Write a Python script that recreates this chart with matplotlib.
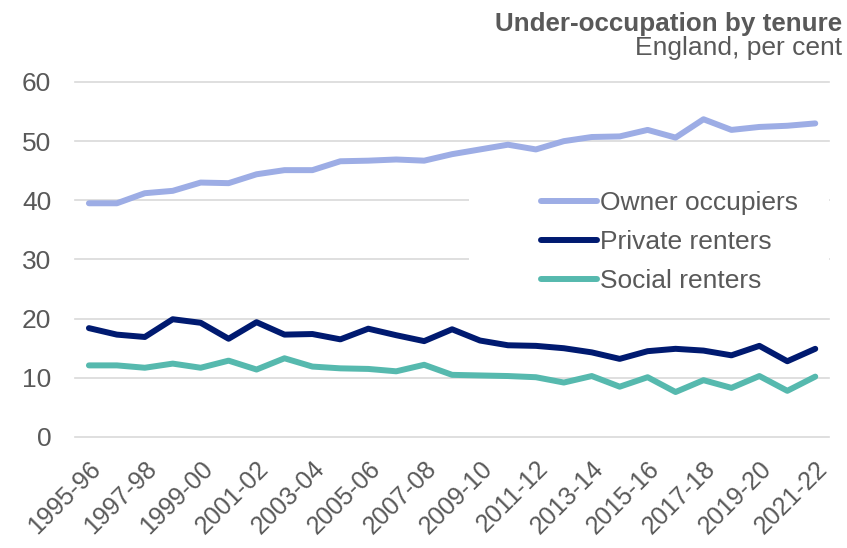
import matplotlib.pyplot as plt
from matplotlib.patches import Rectangle

plt.rcParams['font.family'] = ['Liberation Sans', 'DejaVu Sans']

# Survey years
years = ['1995-96', '1996-97', '1997-98', '1998-99', '1999-00', '2000-01', '2001-02',
         '2002-03', '2003-04', '2004-05', '2005-06', '2006-07', '2007-08', '2008-09',
         '2009-10', '2010-11', '2011-12', '2012-13', '2013-14', '2014-15', '2015-16',
         '2016-17', '2017-18', '2018-19', '2019-20', '2020-21', '2021-22']

# Under-occupation, per cent
owner = [39.5, 39.5, 41.2, 41.6, 43.0, 42.9, 44.4, 45.1, 45.1, 46.6, 46.7, 46.9, 46.7, 47.8,
         48.6, 49.4, 48.6, 50.0, 50.7, 50.8, 51.9, 50.6, 53.7, 51.9, 52.4, 52.6, 53.0]
private = [18.4, 17.3, 16.9, 19.9, 19.3, 16.6, 19.4, 17.3, 17.4, 16.5, 18.3, 17.2, 16.2, 18.2,
           16.3, 15.5, 15.4, 15.0, 14.3, 13.2, 14.5, 14.9, 14.6, 13.8, 15.4, 12.8, 14.9]
social = [12.1, 12.1, 11.7, 12.4, 11.7, 12.9, 11.4, 13.3, 11.9, 11.6, 11.5, 11.1, 12.2, 10.5,
          10.4, 10.3, 10.1, 9.2, 10.3, 8.5, 10.1, 7.6, 9.6, 8.3, 10.3, 7.8, 10.2]

grey = '#595959'

fig = plt.figure(figsize=(8.47, 5.48), dpi=100)
ax = fig.add_axes([0.0885, 0.2026, 0.8905, 0.6478])

x = range(len(years))
ax.plot(x, owner, color='#9DADE5', lw=4.3, solid_capstyle='round', label='Owner occupiers', zorder=3)
ax.plot(x, private, color='#001A70', lw=4.3, solid_capstyle='round', label='Private renters', zorder=3)
ax.plot(x, social, color='#56B9AE', lw=4.3, solid_capstyle='round', label='Social renters', zorder=3)

# white panel behind the legend
ax.add_patch(Rectangle((0.523, 0.37), 0.477, 0.40, transform=ax.transAxes,
                       facecolor='white', edgecolor='none', zorder=1))

ax.set_xlim(-0.5, len(years) - 0.5)
ax.set_ylim(0, 60)
ax.set_yticks(range(0, 61, 10))
ax.set_xticks(list(x)[::2])
ax.set_xticklabels(years[::2], rotation=45, ha='right', rotation_mode='anchor')

ax.grid(axis='y', color='#D9D9D9', lw=1.2)
for gl in ax.get_ygridlines():
    gl.set_clip_on(False)
ax.set_axisbelow(True)
for s in ax.spines.values():
    s.set_visible(False)
ax.tick_params(axis='y', length=0, pad=17, labelsize=19, labelcolor=grey)
ax.tick_params(axis='x', length=0, pad=14, labelsize=18, labelcolor=grey)

leg = ax.legend(loc='upper left', bbox_to_anchor=(0.618, 0.692), frameon=False,
                fontsize=19, handlelength=2.1, handletextpad=0.15, labelspacing=0.56,
                borderpad=0, borderaxespad=0)
for t in leg.get_texts():
    t.set_color(grey)

fig.text(0.994, 0.943, 'Under-occupation by tenure', ha='right', va='baseline',
         fontsize=18.7, fontweight='bold', color=grey)
fig.text(0.994, 0.8996, 'England, per cent', ha='right', va='baseline',
         fontsize=19, color=grey)

fig.savefig('out.png', dpi=100)
